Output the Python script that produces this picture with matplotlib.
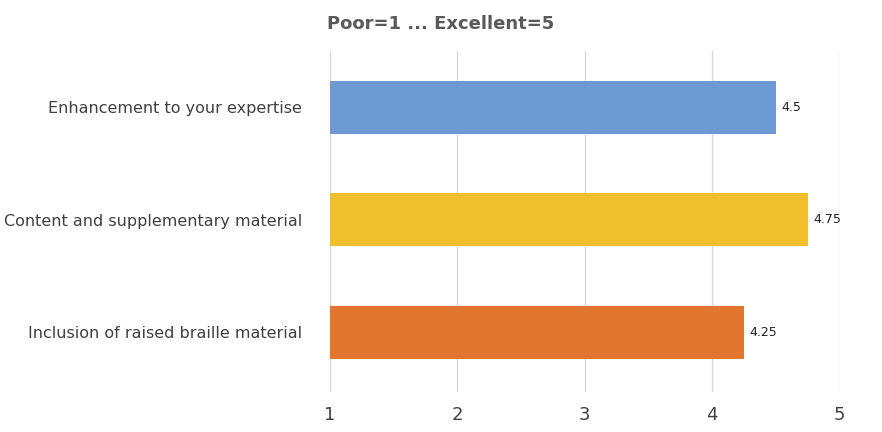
import matplotlib.pyplot as plt

categories = ["Inclusion of raised braille material",
              "Content and supplementary material",
              "Enhancement to your expertise"]
values = [4.25, 4.75, 4.5]
colors = ["#E0762F", "#F0C02C", "#6E9AD3"]
xticks = [1, 2, 3, 4, 5]

fig = plt.figure(figsize=(8.82, 4.32), dpi=100)
ax = fig.add_axes([0.374, 0.093, 0.578, 0.789])

y = range(len(categories))
ax.barh(y, [v - 1 for v in values], left=1, height=0.47, color=colors, zorder=3)
for yi, v in zip(y, values):
    ax.text(v + 0.04, yi, f"{v:g}", va="center", ha="left", fontsize=9, color="#222222")

ax.set_xlim(1, 5)
ax.set_ylim(-0.53, 2.5)
ax.set_xticks(xticks)
ax.set_yticks(list(y))
ax.set_yticklabels(categories, fontsize=11.5, color="#404040")
ax.tick_params(axis="x", labelsize=13, colors="#404040", length=0, pad=10)
ax.tick_params(axis="y", length=0, pad=20)
ax.grid(axis="x", color="#D9D9D9", linewidth=1, zorder=0)
for s in ax.spines.values():
    s.set_visible(False)

fig.text(0.5, 0.945, "Poor=1 ... Excellent=5", ha="center", va="center",
         fontsize=13, fontweight="bold", color="#595959")

fig.savefig("out.png", dpi=100)
